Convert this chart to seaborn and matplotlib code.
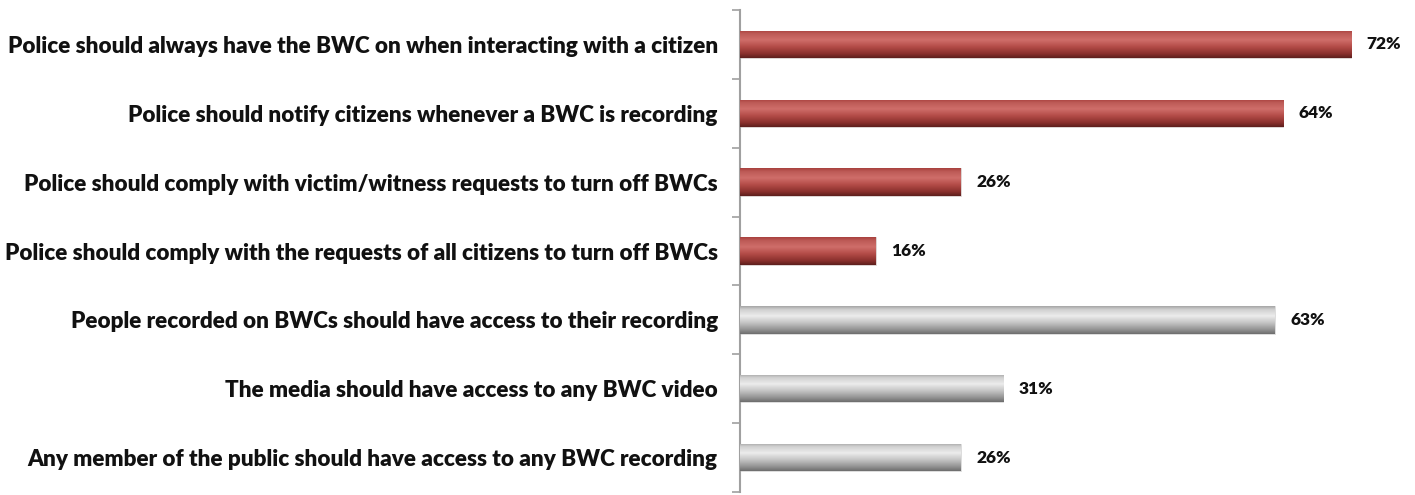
import matplotlib
matplotlib.use("Agg")
import matplotlib.pyplot as plt
import numpy as np
import pandas as pd
import seaborn as sns

categories = [
    "Police should always have the BWC on when interacting with a citizen",
    "Police should notify citizens whenever a BWC is recording",
    "Police should comply with victim/witness requests to turn off BWCs",
    "Police should comply with the requests of all citizens to turn off BWCs",
    "People recorded on BWCs should have access to their recording",
    "The media should have access to any BWC video",
    "Any member of the public should have access to any BWC recording",
]
values = [72, 64, 26, 16, 63, 31, 26]
groups = ["recording", "recording", "recording", "recording", "access", "access", "access"]

df = pd.DataFrame({"category": categories, "value": values, "group": groups})

sns.set_theme(style="white")
plt.rcParams["font.family"] = ["Lato", "DejaVu Sans"]

fig = plt.figure(figsize=(14.15, 4.95), dpi=100)
ax = fig.add_axes([740 / 1415, 3 / 495, 1 - 740 / 1415, 482 / 495])

palette = {"recording": "#c0504d", "access": "#bfbfbf"}
sns.barplot(data=df, x="value", y="category", hue="group", palette=palette,
            dodge=False, width=0.4, legend=False, ax=ax, saturation=1)

ax.set_xlim(0, 79.5)
ax.set_ylim(len(categories) - 0.5, -0.5)

# gradient fills
def grad(stops):
    pos = np.array([s[0] for s in stops])
    cols = np.array([matplotlib.colors.to_rgb(s[1]) for s in stops])
    t = np.linspace(0, 1, 64)
    arr = np.stack([np.interp(t, pos, cols[:, i]) for i in range(3)], axis=-1)
    return arr[:, None, :]

red_grad = grad([(0, "#a9413e"), (0.12, "#bd5a56"), (0.35, "#cf6e6a"), (0.6, "#b34b47"), (0.85, "#8a302d"), (1, "#5e1f1d")])
gray_grad = grad([(0, "#a6a6a6"), (0.12, "#d0d0d0"), (0.35, "#ececec"), (0.6, "#c4c4c4"), (0.85, "#929292"), (1, "#6e6e6e")])

for cont in ax.containers:
    for patch in cont.patches:
        x0, y0 = patch.get_x(), patch.get_y()
        w, h = patch.get_width(), patch.get_height()
        if w <= 0 or np.isnan(w):
            continue
        fc = patch.get_facecolor()
        g = red_grad if fc[0] - fc[2] > 0.2 else gray_grad
        im = ax.imshow(g, extent=(x0, x0 + w, y0 + h, y0), aspect="auto",
                       interpolation="bilinear", zorder=3)
        im.set_clip_path(patch)
        patch.set_edgecolor("#dddddd")
        patch.set_linewidth(0.6)

ax.set_xlim(0, 79.5)
ax.set_ylim(len(categories) - 0.5, -0.5)

for cont in ax.containers:
    ax.bar_label(cont, fmt="%d%%", padding=11, fontsize=12.5, fontweight="heavy", color="#111111")

ax.set_xlabel("")
ax.set_ylabel("")
ax.set_xticks([])
ax.set_yticks(range(len(categories)))
ax.set_yticklabels(categories, fontsize=16.2, fontweight="heavy", color="#111111")
ax.set_yticks(np.arange(-0.5, len(categories) + 0.5, 1), minor=True)
ax.tick_params(axis="y", which="major", length=0, pad=16)
ax.tick_params(axis="y", which="minor", length=6, width=1.2, color="#a0a0a0", direction="out", left=True)

for s in ["top", "right", "bottom"]:
    ax.spines[s].set_visible(False)
ax.spines["left"].set_color("#a0a0a0")
ax.spines["left"].set_linewidth(1.5)
ax.set_facecolor("white")

fig.savefig("out.png", dpi=100, facecolor="white")
